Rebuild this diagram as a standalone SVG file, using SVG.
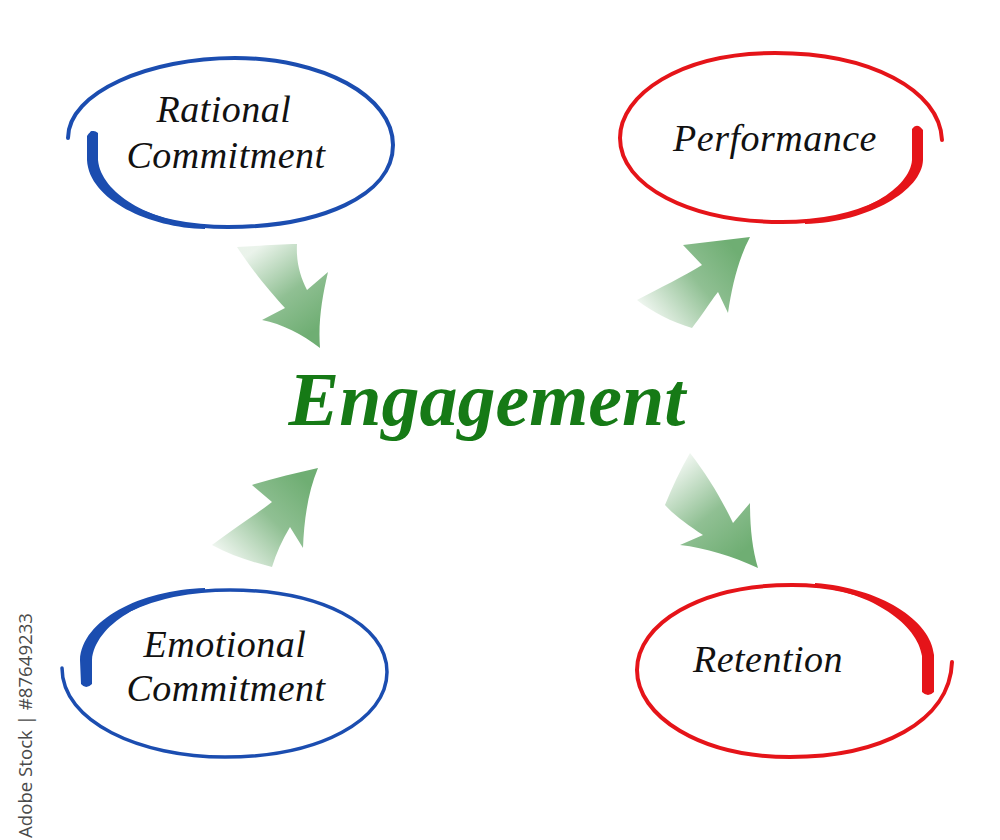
<svg xmlns="http://www.w3.org/2000/svg" width="1000" height="840" viewBox="0 0 1000 840">
  <style>
    .lbl { font-family: "Liberation Serif", "Times New Roman", serif; font-style: italic; font-size: 38px; fill: #111; text-anchor: middle; letter-spacing: 0.5px; }
    .blue { fill: none; stroke: #1b4db0; stroke-linecap: round; stroke-linejoin: round; }
    .red { fill: none; stroke: #e51419; stroke-linecap: round; stroke-linejoin: round; }
    .bluef { fill: #1b4db0; }
    .redf { fill: #e51419; }
    .center { font-family: "Liberation Serif", "Times New Roman", serif; font-style: italic; font-weight: bold; font-size: 76px; fill: #167a16; text-anchor: middle; }
    .wm { font-family: "Open Sans", "DejaVu Sans", sans-serif; font-size: 18px; fill: #4a4a4a; }
  </style>
  <defs>
    <linearGradient id="g1" gradientUnits="userSpaceOnUse" x1="255" y1="250" x2="315" y2="330">
      <stop offset="0" stop-color="#74b078" stop-opacity="0.15"/>
      <stop offset="0.55" stop-color="#74b078" stop-opacity="0.8"/>
      <stop offset="1" stop-color="#6fae73"/>
    </linearGradient>
    <linearGradient id="g2" gradientUnits="userSpaceOnUse" x1="650" y1="318" x2="735" y2="250">
      <stop offset="0" stop-color="#74b078" stop-opacity="0.1"/>
      <stop offset="0.55" stop-color="#74b078" stop-opacity="0.8"/>
      <stop offset="1" stop-color="#6fae73"/>
    </linearGradient>
    <linearGradient id="g3" gradientUnits="userSpaceOnUse" x1="225" y1="560" x2="305" y2="480">
      <stop offset="0" stop-color="#74b078" stop-opacity="0.1"/>
      <stop offset="0.55" stop-color="#74b078" stop-opacity="0.8"/>
      <stop offset="1" stop-color="#6fae73"/>
    </linearGradient>
    <linearGradient id="g4" gradientUnits="userSpaceOnUse" x1="675" y1="465" x2="745" y2="550">
      <stop offset="0" stop-color="#74b078" stop-opacity="0.1"/>
      <stop offset="0.55" stop-color="#74b078" stop-opacity="0.8"/>
      <stop offset="1" stop-color="#6fae73"/>
    </linearGradient>
  </defs>
  <rect width="1000" height="840" fill="#ffffff"/>

  <g id="rational">
    <path class="blue" stroke-width="4" d="M68,138 C68,92 150,58 235,58 C322,58 393,96 393,145 C393,196 320,227 228,227 C150,227 97,198 93,160 L92,133"/>
    <path class="bluef" d="M205,229 C150,228 89,200 87,160 L87,136 Q92,128 98,133 L98,160 C101,193 150,222 205,225 Z"/>
    <text class="lbl" x="224" y="122">Rational</text>
    <text class="lbl" x="226" y="168">Commitment</text>
  </g>

  <g id="performance">
    <path class="red" stroke-width="4" d="M942,140 C940,90 870,53 775,53 C680,53 620,95 620,138 C620,186 690,222 782,222 C862,222 916,190 917,160 L917,128"/>
    <path class="redf" d="M805,224 C870,222 922,190 923,160 L923,130 Q917,122 912,129 L912,160 C910,188 862,218 805,220 Z"/>
    <text class="lbl" x="775" y="151">Performance</text>
  </g>

  <g id="emotional">
    <path class="blue" stroke-width="3.5" d="M62,668 C62,722 140,757 225,757 C320,757 387,720 387,672 C387,624 320,590 230,590 C150,590 90,620 86,660 L87,682"/>
    <path class="bluef" d="M205,588 C140,590 82,620 80,660 L81,684 Q86,690 92,684 L92,660 C95,625 145,594 205,592 Z"/>
    <text class="lbl" x="225" y="657">Emotional</text>
    <text class="lbl" x="226" y="701">Commitment</text>
  </g>

  <g id="retention">
    <path class="red" stroke-width="4" d="M952,662 C950,722 880,757 790,757 C700,757 637,716 637,670 C637,624 700,585 792,585 C872,585 925,620 928,655 L928,690"/>
    <path class="redf" d="M815,583 C880,588 931,620 934,655 L934,692 Q928,698 922,692 L922,656 C918,625 872,592 815,587 Z"/>
    <text class="lbl" x="768" y="672">Retention</text>
  </g>

  <g id="engagement">
    <text class="center" x="487" y="425">Engagement</text>
  </g>

  <g id="connectors">
    <path fill="url(#g1)" d="M237,247 C258,246 280,244 297,244 C296,262 300,276 307,290 L328,272 C322,298 318,322 320,348 C302,334 282,324 262,320 L285,308 C270,292 252,270 237,247 Z"/>
    <path fill="url(#g2)" d="M637,300 C660,288 684,276 702,265 L683,245 C705,242 728,240 750,237 C738,260 732,286 728,313 L718,292 C708,305 700,318 692,328 C672,322 652,312 637,300 Z"/>
    <path fill="url(#g3)" d="M212,545 C232,530 254,516 272,502 L252,485 C274,478 296,473 318,468 C308,492 304,520 303,548 L290,527 C282,540 276,554 272,567 C252,562 230,555 212,545 Z"/>
    <path fill="url(#g4)" d="M690,453 C708,476 722,500 733,523 L750,503 C750,526 752,548 758,568 C732,556 706,548 680,545 L703,535 C688,525 674,515 665,505 C672,488 680,470 690,453 Z"/>
  </g>

  <text class="wm" transform="translate(32,838) rotate(-90)" textLength="225" lengthAdjust="spacingAndGlyphs">Adobe Stock | #87649233</text>
</svg>
